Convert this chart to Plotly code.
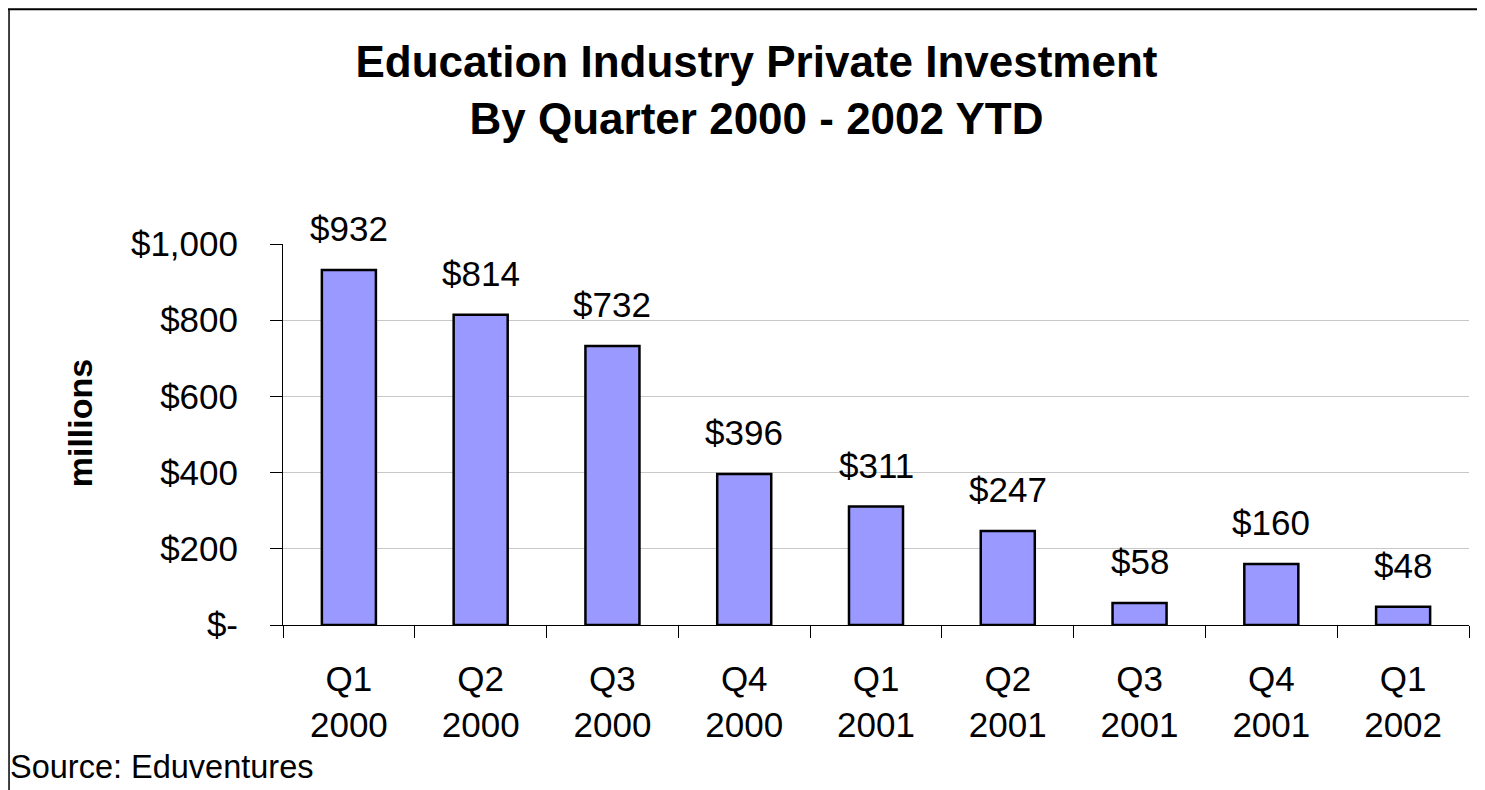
import plotly.graph_objects as go

quarters = ["Q1<br>2000", "Q2<br>2000", "Q3<br>2000", "Q4<br>2000",
            "Q1<br>2001", "Q2<br>2001", "Q3<br>2001", "Q4<br>2001",
            "Q1<br>2002"]
investment = [932, 814, 732, 396, 311, 247, 58, 160, 48]
y_ticks = [0, 200, 400, 600, 800, 1000]
y_tick_text = ["$-", "$200", "$400", "$600", "$800", "$1,000"]
grid_vals = [200, 400, 600, 800]

FONT = "Arial, Liberation Sans, sans-serif"

fig = go.Figure()
fig.add_trace(go.Bar(
    x=quarters, y=investment,
    width=0.41,
    marker=dict(color="#9999FF", line=dict(color="black", width=2.5)),
    hoverinfo="x+y",
))

# data labels above the bars
for q, v in zip(quarters, investment):
    fig.add_annotation(x=q, y=v, text=f"${v}", showarrow=False,
                       yanchor="bottom", yshift=20,
                       font=dict(size=35, color="black", family=FONT))

# axis title and source note
fig.add_annotation(xref="paper", yref="paper", x=-0.171, y=0.53,
                   text="<b>millions</b>", textangle=-90, showarrow=False,
                   xanchor="center", yanchor="middle",
                   font=dict(size=34, color="black", family=FONT))
fig.add_annotation(xref="paper", yref="paper", x=-0.2315, y=-0.3727,
                   text="Source: Eduventures", showarrow=False,
                   xanchor="left", yanchor="middle",
                   font=dict(size=32.5, color="black", family=FONT))

# chart border (top and left edges visible)
fig.add_shape(type="line", xref="paper", yref="paper",
              x0=-0.2327, x1=1.05, y0=1.616, y1=1.616,
              line=dict(color="black", width=2))
fig.add_shape(type="line", xref="paper", yref="paper",
              x0=-0.231, x1=-0.231, y0=1.616, y1=-0.45,
              line=dict(color="black", width=1.5))

W, H = 1477, 782
fig.update_layout(
    width=W, height=H,
    margin=dict(l=275, r=16, t=236, b=165),
    paper_bgcolor="white", plot_bgcolor="white",
    showlegend=False,
    title=dict(
        text="<b>Education Industry Private Investment<br>"
             "By Quarter 2000 - 2002 YTD</b>",
        x=748.5 / W, xref="container", xanchor="center",
        y=1 - 69 / H, yref="container", yanchor="top",
        font=dict(size=44, color="black", family=FONT),
    ),
    font=dict(family=FONT, color="black"),
    xaxis=dict(
        showline=True, linecolor="black", linewidth=1,
        ticks="outside", tickson="boundaries", ticklen=12,
        tickcolor="black", tickwidth=1,
        tickfont=dict(size=35, color="black", family=FONT),
        ticklabelstandoff=23,
        showgrid=False,
    ),
    yaxis=dict(
        range=[0, 1000],
        tickvals=y_ticks, ticktext=y_tick_text,
        showline=True, linecolor="black", linewidth=1,
        ticks="outside", ticklen=12, tickcolor="black", tickwidth=1,
        tickfont=dict(size=35, color="black", family=FONT),
        ticklabelstandoff=25,
        showgrid=False, zeroline=False,
        minor=dict(tickvals=grid_vals, showgrid=True,
                   gridcolor="#c8c8c8", gridwidth=1, ticks=""),
    ),
    bargap=0.59,
)

fig.write_html("out.html")
